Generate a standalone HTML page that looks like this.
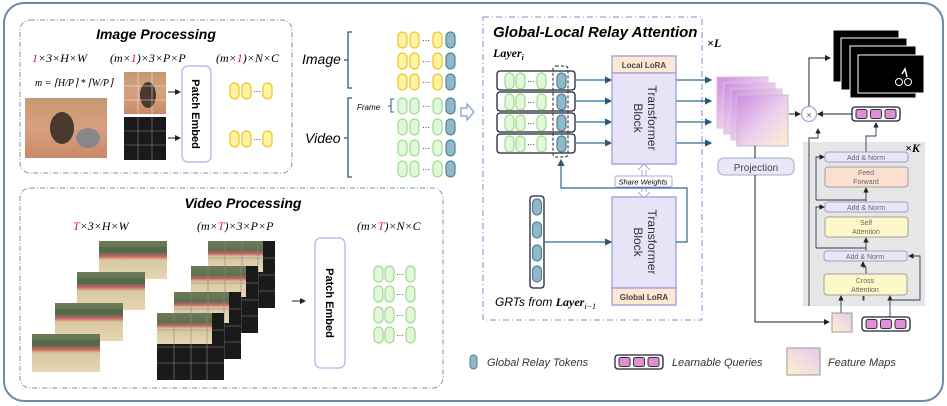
<!DOCTYPE html>
<html><head><meta charset="utf-8"><style>
html,body{margin:0;padding:0;background:#fff}
svg{display:block}
text{font-family:"Liberation Sans",sans-serif}
.t{font-style:italic;font-weight:bold}
.m{font-family:"Liberation Serif",serif;font-style:italic}
</style></head><body>
<svg width="947" height="406" viewBox="0 0 947 406" xmlns="http://www.w3.org/2000/svg">
<defs>
<rect id="ty" width="9" height="16" rx="4.5" fill="#fff3a6" stroke="#f2c21a" stroke-width="1.2"/>
<rect id="tg" width="9" height="16" rx="4.5" fill="#e2f8da" stroke="#9fd98c" stroke-width="1.2"/>
<rect id="tb" width="9" height="16" rx="4.5" fill="#8fb9c9" stroke="#4f8197" stroke-width="1.2"/>
<linearGradient id="fm" x1="0" y1="0" x2="1" y2="1"><stop offset="0" stop-color="#d08ce0"/><stop offset="0.55" stop-color="#ecd0ec"/><stop offset="1" stop-color="#fdf0d0"/></linearGradient>
<linearGradient id="fm2" x1="1" y1="0" x2="0" y2="1"><stop offset="0" stop-color="#e6c8f0"/><stop offset="1" stop-color="#fdf2cc"/></linearGradient>
<linearGradient id="cat" x1="0" y1="0" x2="0" y2="1"><stop offset="0" stop-color="#c49a70"/><stop offset="0.5" stop-color="#d8a080"/><stop offset="1" stop-color="#c88a68"/></linearGradient>
<linearGradient id="vid" x1="0" y1="0" x2="0" y2="1"><stop offset="0" stop-color="#6c7a58"/><stop offset="0.3" stop-color="#5f7050"/><stop offset="0.4" stop-color="#c86060"/><stop offset="0.5" stop-color="#d8c8a0"/><stop offset="1" stop-color="#e6d6b4"/></linearGradient>
<marker id="ar" markerWidth="6" markerHeight="6" refX="5" refY="3" orient="auto"><path d="M0,0 L6,3 L0,6z" fill="#2a5a7a"/></marker>
<marker id="ak" markerWidth="6" markerHeight="6" refX="5" refY="3" orient="auto"><path d="M0,0 L6,3 L0,6z" fill="#222"/></marker>
<g id="vf"><rect width="68" height="38" fill="url(#vid)"/><rect y="6" width="68" height="6" fill="#56684a"/></g>
<g id="pf"><rect width="67" height="67" fill="#1a1a1a"/><rect width="55" height="31" fill="url(#vid)"/><path d="M0,17H67M0,34H67M0,50H67M17,0V67M34,0V67M50,0V67" stroke="#888" stroke-width="0.6"/></g>
<g id="q"><rect width="48" height="14" rx="3" fill="#fff" stroke="#223" stroke-width="1.3"/><rect x="4" y="2.5" width="11" height="9" rx="2" fill="#e08ed8" stroke="#333"/><rect x="18.5" y="2.5" width="11" height="9" rx="2" fill="#e08ed8" stroke="#333"/><rect x="33" y="2.5" width="11" height="9" rx="2" fill="#e08ed8" stroke="#333"/></g>
<g id="rowy"><use href="#ty" x="0"/><use href="#ty" x="12"/><text x="24" y="11" font-size="8">···</text><use href="#ty" x="35"/><use href="#tb" x="48"/></g>
<g id="rowg"><use href="#tg" x="0"/><use href="#tg" x="12"/><text x="24" y="11" font-size="8">···</text><use href="#tg" x="35"/><use href="#tb" x="48"/></g>
<g id="gt"><use href="#tg" x="0"/><use href="#tg" x="11"/><text x="22" y="11" font-size="8">···</text><use href="#tg" x="32"/></g>
</defs>

<rect x="4" y="3" width="939" height="398" rx="20" fill="#fff" stroke="#7088ad" stroke-width="2"/>

<!-- Image Processing -->
<rect x="20" y="20" width="272" height="153" rx="10" fill="none" stroke="#7d8fb0" stroke-dasharray="5,2,1,2"/>
<text x="156" y="39" class="t" font-size="14" text-anchor="middle">Image Processing</text>
<text x="32" y="62" class="m" font-size="12"><tspan fill="#e02020">1</tspan>×3×H×W</text>
<text x="110" y="62" class="m" font-size="12">(m×<tspan fill="#e02020">1</tspan>)×3×P×P</text>
<text x="216" y="62" class="m" font-size="12">(m×<tspan fill="#e02020">1</tspan>)×N×C</text>
<text x="35" y="86" class="m" font-size="10">m = ⌈H/P⌉ * ⌈W/P⌉</text>
<rect x="25" y="98" width="82" height="60" fill="url(#cat)"/>
<ellipse cx="62" cy="128" rx="12" ry="16" fill="#4a3a2e"/><ellipse cx="88" cy="138" rx="12" ry="10" fill="#888"/>
<rect x="124" y="72" width="42" height="42" fill="url(#cat)"/><ellipse cx="148" cy="95" rx="8" ry="13" fill="#4a3a2e"/>
<path d="M124,86H166M124,100H166M138,72V114M152,72V114" stroke="#eee" stroke-width="0.5"/>
<rect x="124" y="117" width="42" height="43" fill="#1a1a1a"/>
<path d="M124,131H166M124,145H166M138,117V160M152,117V160" stroke="#888" stroke-width="0.6"/>
<line x1="168" y1="92" x2="180" y2="92" stroke="#222" marker-end="url(#ak)"/>
<line x1="168" y1="138" x2="180" y2="138" stroke="#222" marker-end="url(#ak)"/>
<rect x="182" y="66" width="29" height="96" rx="6" fill="#fff" stroke="#b8c0ee" stroke-width="1.5"/>
<text transform="translate(192,114) rotate(90)" font-size="11" font-weight="bold" text-anchor="middle">Patch Embed</text>
<g transform="translate(230,83)"><use href="#ty"/><use href="#ty" x="12"/><text x="23" y="11" font-size="8">···</text><use href="#ty" x="33"/></g>
<g transform="translate(230,131)"><use href="#ty"/><use href="#ty" x="12"/><text x="23" y="11" font-size="8">···</text><use href="#ty" x="33"/></g>

<!-- Image/Video token groups -->
<text x="302" y="64" font-size="14" font-style="italic">Image</text>
<path d="M352,32H348V88H352M348,60H344" fill="none" stroke="#2a5a7a" stroke-width="1.3"/>
<use href="#rowy" x="398" y="32"/><use href="#rowy" x="398" y="53"/><use href="#rowy" x="398" y="74"/>
<text x="305" y="143" font-size="14" font-style="italic">Video</text>
<path d="M352,98H348V177H352M348,138H344" fill="none" stroke="#2a5a7a" stroke-width="1.3"/>
<text x="357" y="110" font-size="8" font-style="italic">Frame</text>
<path d="M394,99H391V112H394M391,106H388" fill="none" stroke="#2a5a7a"/>
<use href="#rowg" x="398" y="98"/><use href="#rowg" x="398" y="119"/><use href="#rowg" x="398" y="140"/><use href="#rowg" x="398" y="161"/>
<path d="M461,108H467V104L474,112L467,120V116H461Z" fill="#fff" stroke="#7a9ac0" stroke-width="1.2"/>

<!-- Video Processing -->
<rect x="20" y="188" width="423" height="200" rx="10" fill="none" stroke="#7d8fb0" stroke-dasharray="5,2,1,2"/>
<text x="243" y="208" class="t" font-size="14" text-anchor="middle">Video Processing</text>
<text x="73" y="230" class="m" font-size="12"><tspan fill="#e02020">T</tspan>×3×H×W</text>
<text x="197" y="230" class="m" font-size="12">(m×<tspan fill="#e02020">T</tspan>)×3×P×P</text>
<text x="357" y="230" class="m" font-size="12">(m×<tspan fill="#e02020">T</tspan>)×N×C</text>
<use href="#vf" x="99" y="241"/><use href="#vf" x="77" y="272"/><use href="#vf" x="55" y="303"/><use href="#vf" x="32" y="334"/>
<use href="#pf" x="208" y="241"/><use href="#pf" x="191" y="266"/><use href="#pf" x="174" y="292"/><use href="#pf" x="157" y="313"/>
<line x1="292" y1="301" x2="305" y2="301" stroke="#222" marker-end="url(#ak)"/>
<rect x="315" y="238" width="30" height="130" rx="6" fill="#fff" stroke="#b8c0ee" stroke-width="1.5"/>
<text transform="translate(326,303) rotate(90)" font-size="11" font-weight="bold" text-anchor="middle">Patch Embed</text>
<use href="#gt" x="374" y="266"/><use href="#gt" x="374" y="286"/><use href="#gt" x="374" y="307"/><use href="#gt" x="374" y="327"/>

<!-- GLRA -->
<rect x="483" y="17" width="219" height="303" fill="none" stroke="#9aa8dc" stroke-width="1.3" stroke-dasharray="6,3,1,3"/>
<text x="493" y="37" class="t" font-size="15">Global-Local Relay Attention</text>
<text x="707" y="47" class="m" font-size="12" font-weight="bold">×L</text>
<text x="493" y="57" class="m" font-size="12" font-weight="bold">Layer<tspan font-size="8" dy="3">i</tspan></text>
<g fill="#fff" stroke="#223" stroke-width="1.3">
<rect x="497" y="71" width="78" height="19" rx="3"/><rect x="497" y="92" width="78" height="19" rx="3"/><rect x="497" y="113" width="78" height="19" rx="3"/><rect x="497" y="134" width="78" height="19" rx="3"/>
</g>
<g transform="translate(0,0)">
<use href="#gt" x="505" y="73"/><use href="#tb" x="557" y="73"/>
<use href="#gt" x="505" y="94"/><use href="#tb" x="557" y="94"/>
<use href="#gt" x="505" y="115"/><use href="#tb" x="557" y="115"/>
<use href="#gt" x="505" y="136"/><use href="#tb" x="557" y="136"/>
</g>
<rect x="553" y="66" width="15" height="91" rx="3" fill="none" stroke="#223" stroke-dasharray="3,2"/>
<g stroke="#2a6a90" stroke-width="1.2" marker-end="url(#ar)">
<line x1="576" y1="80" x2="611" y2="80"/><line x1="576" y1="101" x2="611" y2="101"/><line x1="576" y1="122" x2="611" y2="122"/><line x1="576" y1="143" x2="611" y2="143"/>
<line x1="676" y1="80" x2="711" y2="80"/><line x1="676" y1="101" x2="711" y2="101"/><line x1="676" y1="122" x2="711" y2="122"/><line x1="676" y1="143" x2="711" y2="143"/>
</g>
<rect x="612" y="56" width="64" height="17" fill="#fde8d2" stroke="#a7a8e0" stroke-width="1.5"/>
<text x="644" y="68" font-size="8" text-anchor="middle" font-weight="bold" fill="#444">Local LoRA</text>
<rect x="612" y="73" width="64" height="91" fill="#e8e4f8" stroke="#a7a8e0" stroke-width="1.5"/>
<text transform="translate(644,118) rotate(90)" font-size="12" text-anchor="middle" fill="#333"><tspan x="0" dy="-4">Transformer</tspan><tspan x="0" dy="14">Block</tspan></text>
<path d="M644,165V197" stroke="#a7a8e0" stroke-width="5"/><path d="M644,165V197" stroke="#fff" stroke-width="3"/>
<path d="M638,170L644,164L650,170M638,192L644,198L650,192" fill="#fff" stroke="#a7a8e0"/>
<rect x="615" y="176" width="57" height="11" rx="2" fill="#fff" stroke="#a7a8e0"/>
<text x="643" y="184.5" font-size="7.5" font-style="italic" text-anchor="middle">Share Weights</text>
<rect x="612" y="197" width="64" height="91" fill="#e8e4f8" stroke="#a7a8e0" stroke-width="1.5"/>
<text transform="translate(644,242) rotate(90)" font-size="12" text-anchor="middle" fill="#333"><tspan x="0" dy="-4">Transformer</tspan><tspan x="0" dy="14">Block</tspan></text>
<rect x="612" y="288" width="64" height="17" fill="#fde8d2" stroke="#a7a8e0" stroke-width="1.5"/>
<text x="644" y="300" font-size="8" text-anchor="middle" font-weight="bold" fill="#444">Global LoRA</text>
<path d="M676,242H687V188H561V160" fill="none" stroke="#2a6a90" stroke-width="1.2" marker-end="url(#ar)"/>
<rect x="530" y="196" width="14" height="92" rx="3" fill="#fff" stroke="#223" stroke-width="1.3"/>
<use href="#tb" x="532.5" y="199"/><use href="#tb" x="532.5" y="222"/><use href="#tb" x="532.5" y="245"/><use href="#tb" x="532.5" y="266"/>
<line x1="544" y1="242" x2="611" y2="242" stroke="#2a6a90" stroke-width="1.2" marker-end="url(#ar)"/>
<text x="495" y="306" font-size="12" font-style="italic">GRTs from <tspan class="m" font-weight="bold">Layer</tspan><tspan class="m" font-size="8" dy="3">i−1</tspan></text>

<!-- Feature maps & decoder -->
<rect x="717" y="77" width="51" height="51" fill="url(#fm)" stroke="#d8c0e0"/>
<rect x="724" y="83" width="51" height="51" fill="url(#fm)" stroke="#d8c0e0"/>
<rect x="731" y="89" width="51" height="51" fill="url(#fm)" stroke="#d8c0e0"/>
<rect x="737" y="95" width="51" height="51" fill="url(#fm)" stroke="#c8b8d0"/>
<rect x="718" y="158" width="76" height="17" rx="6" fill="#eae6f8" stroke="#a7a8c8"/>
<text x="756" y="171" font-size="10" text-anchor="middle" fill="#444">Projection</text>
<path d="M755,146V158M755,175V322H829" fill="none" stroke="#222" marker-end="url(#ak)"/>
<line x1="789" y1="114" x2="800" y2="114" stroke="#222" marker-end="url(#ak)"/>
<circle cx="809" cy="114" r="7.5" fill="#fff" stroke="#a7a8e0" stroke-width="1.3"/>
<text x="809" y="118" font-size="9" text-anchor="middle" fill="#555">×</text>
<path d="M809,106V58H830" fill="none" stroke="#222" marker-end="url(#ak)"/>
<line x1="852" y1="114" x2="818" y2="114" stroke="#222" marker-end="url(#ak)"/>
<rect x="833" y="30" width="66" height="52" fill="#000" stroke="#fff"/>
<rect x="841" y="38" width="66" height="52" fill="#000" stroke="#fff"/>
<rect x="850" y="46" width="66" height="52" fill="#000" stroke="#fff"/>
<rect x="858" y="55" width="66" height="38" fill="#000" stroke="#fff"/>
<circle cx="899" cy="82" r="3.5" fill="none" stroke="#fff"/><circle cx="908" cy="82" r="3.5" fill="none" stroke="#fff"/><path d="M902,74l3,-5l2,8" stroke="#fff" fill="none" stroke-width="1.5"/>
<use href="#q" x="852" y="107"/>
<rect x="803" y="142" width="122" height="164" fill="#e6e6e6"/>
<text x="905" y="152" class="m" font-size="12" font-weight="bold">×K</text>
<g fill="none" stroke="#2a3a5a" stroke-width="0.9">
<path d="M866,152V136H876V123" marker-end="url(#ak)"/>
<path d="M809,306V138H818V129" marker-end="url(#ak)"/>
<path d="M866,202V188" marker-end="url(#ak)"/>
<path d="M866,251V238" marker-end="url(#ak)"/>
<path d="M866,274V267H863V262" marker-end="url(#ak)"/>
<path d="M816,200V157H824" marker-end="url(#ak)"/>
<path d="M816,248V207H824" marker-end="url(#ak)"/>
<path d="M841,313V296" marker-end="url(#ak)"/>
<path d="M863,296V300H864V296"/>
<path d="M890,317V296" marker-end="url(#ak)"/>
<path d="M890,300H920V256H909" marker-end="url(#ak)"/>
</g>
<g font-size="7" text-anchor="middle" fill="#666">
<rect x="825" y="152" width="83" height="10" rx="3" fill="#e8e6f8" stroke="#a0a0c0"/><text x="866" y="160">Add &amp; Norm</text>
<rect x="825" y="167" width="83" height="20" rx="3" fill="#fbe0d2" stroke="#a0a0a0"/><text x="866" y="175">Feed</text><text x="866" y="184">Forward</text>
<rect x="825" y="202" width="83" height="10" rx="3" fill="#e8e6f8" stroke="#a0a0c0"/><text x="866" y="210">Add &amp; Norm</text>
<rect x="825" y="217" width="83" height="20" rx="3" fill="#fdf8c8" stroke="#a0a0a0"/><text x="866" y="225">Self</text><text x="866" y="234">Attention</text>
<rect x="824" y="251" width="83" height="10" rx="3" fill="#e8e6f8" stroke="#a0a0c0"/><text x="865" y="259">Add &amp; Norm</text>
<rect x="824" y="274" width="83" height="21" rx="3" fill="#fdf8c8" stroke="#a0a0a0"/><text x="865" y="283">Cross</text><text x="865" y="292">Attention</text>
</g>
<path d="M816,200H866" stroke="#2a3a5a" stroke-width="0.9"/>
<path d="M816,248H866" stroke="#2a3a5a" stroke-width="0.9"/>
<rect x="832" y="313" width="20" height="19" fill="url(#fm2)" stroke="#999"/>
<use href="#q" x="862" y="317"/>

<!-- Legend -->
<rect x="470" y="355" width="7" height="14" rx="3.5" fill="#8fb9c9" stroke="#4f8197"/>
<text x="487" y="366" font-size="11" font-style="italic" fill="#333">Global Relay Tokens</text>
<use href="#q" x="615" y="355"/>
<text x="672" y="366" font-size="11" font-style="italic" fill="#333">Learnable Queries</text>
<rect x="787" y="348" width="33" height="27" fill="url(#fm2)" stroke="#999"/>
<text x="828" y="366" font-size="11" font-style="italic" fill="#333">Feature Maps</text>
</svg>
</body></html>
